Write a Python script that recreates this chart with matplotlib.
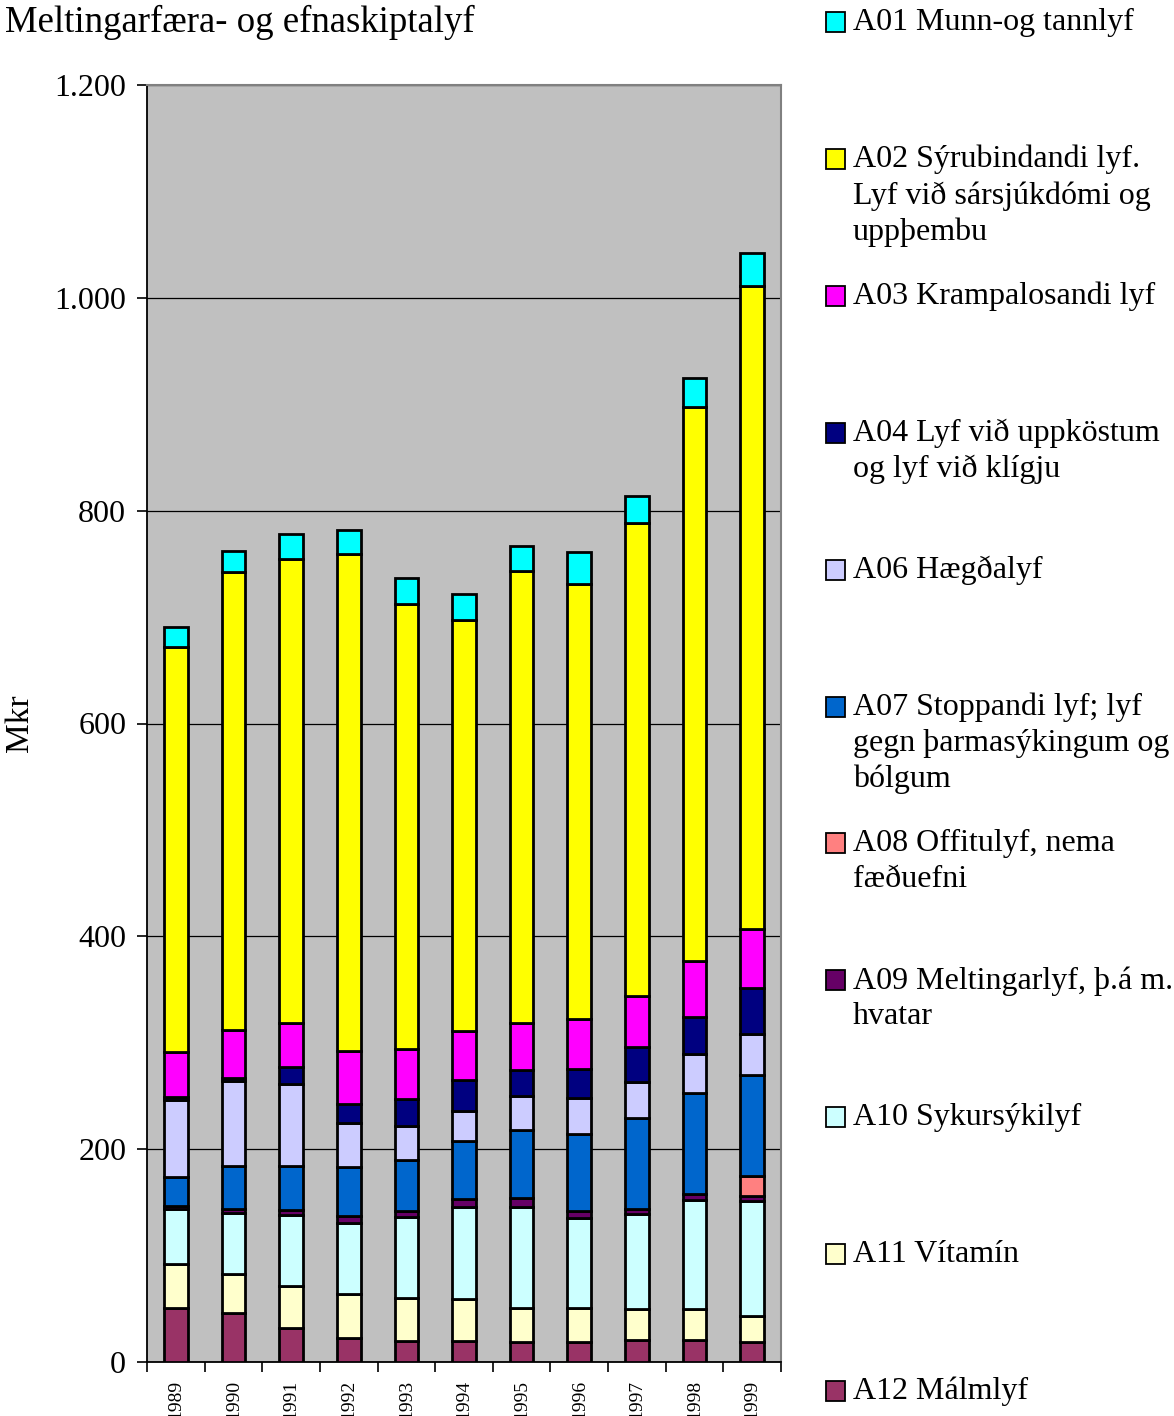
import numpy as np
import matplotlib
matplotlib.use("Agg")
import matplotlib.pyplot as plt
from matplotlib.patches import Rectangle

plt.rcParams['font.family'] = ['Liberation Serif', 'DejaVu Serif']

years = ["1989", "1990", "1991", "1992", "1993", "1994", "1995", "1996", "1997", "1998", "1999"]

# stacked from the bottom up (Mkr)
a12 = [51, 46, 32, 23, 20, 20, 19, 19, 21, 21, 19]
a11 = [41, 37, 39, 41, 40, 39, 32, 32, 29, 29, 24]
a10 = [52, 57, 67, 67, 76, 87, 95, 84, 89, 102, 108]
a09 = [3, 4, 5, 6, 6, 7, 8, 7, 5, 6, 5]
a08 = [0, 0, 0, 0, 0, 0, 0, 0, 0, 0, 19]
a07 = [27, 40, 41, 46, 48, 55, 64, 72, 85, 95, 95]
a06 = [72, 80, 77, 42, 32, 28, 32, 34, 34, 36, 38]
a04 = [3, 3, 16, 17, 25, 29, 24, 27, 33, 35, 43]
a03 = [42, 45, 42, 50, 47, 46, 45, 47, 48, 53, 56]
a02 = [381, 430, 436, 467, 418, 386, 424, 409, 444, 520, 604]
a01 = [19, 20, 23, 23, 25, 25, 24, 30, 26, 28, 31]

series = [a12, a11, a10, a09, a08, a07, a06, a04, a03, a02, a01]
labels = ["A12 Málmlyf",
          "A11 Vítamín",
          "A10 Sykursýkilyf",
          "A09 Meltingarlyf, þ.á m.\nhvatar",
          "A08 Offitulyf, nema\nfæðuefni",
          "A07 Stoppandi lyf; lyf\ngegn þarmasýkingum og\nbólgum",
          "A06 Hægðalyf",
          "A04 Lyf við uppköstum\nog lyf við klígju",
          "A03 Krampalosandi lyf",
          "A02 Sýrubindandi lyf.\nLyf við sársjúkdómi og\nuppþembu",
          "A01 Munn-og tannlyf"]
colors = ["#993366", "#FFFFCC", "#CCFFFF", "#660066", "#FF8080", "#0066CC",
          "#CCCCFF", "#000080", "#FF00FF", "#FFFF00", "#00FFFF"]

W, H = 1174, 1416
fig = plt.figure(figsize=(W / 100, H / 100), dpi=100)
ax = fig.add_axes([147 / W, 1 - 1362 / H, 634 / W, 1277 / H])
ax.set_facecolor("#C0C0C0")

x = np.arange(len(years))
bottom = np.zeros(len(years))
for vals, c in zip(series, colors):
    vals = np.array(vals, dtype=float)
    ax.bar(x, vals, width=0.41, bottom=bottom, color=c, edgecolor="black",
           linewidth=2.0, zorder=3)
    bottom += vals

ax.set_xlim(-0.5, len(years) - 0.5)
ax.set_ylim(0, 1200)
ax.set_yticks(np.arange(0, 1201, 200))
ax.set_yticklabels(["0", "200", "400", "600", "800", "1.000", "1.200"], fontsize=23)
ax.yaxis.grid(True, color="black", linewidth=0.9, zorder=1)
ax.set_axisbelow(True)

ax.set_xticks(np.arange(-0.5, len(years), 1.0))
ax.set_xticklabels([])
ax.set_xticks(x, minor=True)
ax.set_xticklabels(years, minor=True, rotation=90, fontsize=14, va="top", ha="center")
ax.tick_params(axis="x", which="minor", length=0, pad=13)
ax.tick_params(axis="x", which="major", direction="out", length=7, width=1.2)
ax.tick_params(axis="y", direction="out", length=7, width=1.2, pad=8)

for s in ["top", "right"]:
    ax.spines[s].set_color("#808080")
    ax.spines[s].set_linewidth(1.5)
for s in ["left", "bottom"]:
    ax.spines[s].set_color("black")
    ax.spines[s].set_linewidth(1.3)

ax.set_ylabel("Mkr", fontsize=24, labelpad=14)

fig.text(5 / W, 1 - 22 / H, "Meltingarfæra- og efnaskiptalyf", fontsize=26.5,
         ha="left", va="center")

# legend, top entry is A01
y0, step = 22, 136.9
for i, (lab, c) in enumerate(zip(labels[::-1], colors[::-1])):
    yc = y0 + i * step
    fig.add_artist(Rectangle((826 / W, 1 - (yc + 10) / H), 19 / W, 20 / H,
                             facecolor=c, edgecolor="black", linewidth=1.3,
                             transform=fig.transFigure))
    fig.text(853 / W, 1 - (yc - 14) / H, lab, fontsize=23, ha="left", va="top",
             linespacing=1.3)

fig.savefig("out.png", dpi=100)
